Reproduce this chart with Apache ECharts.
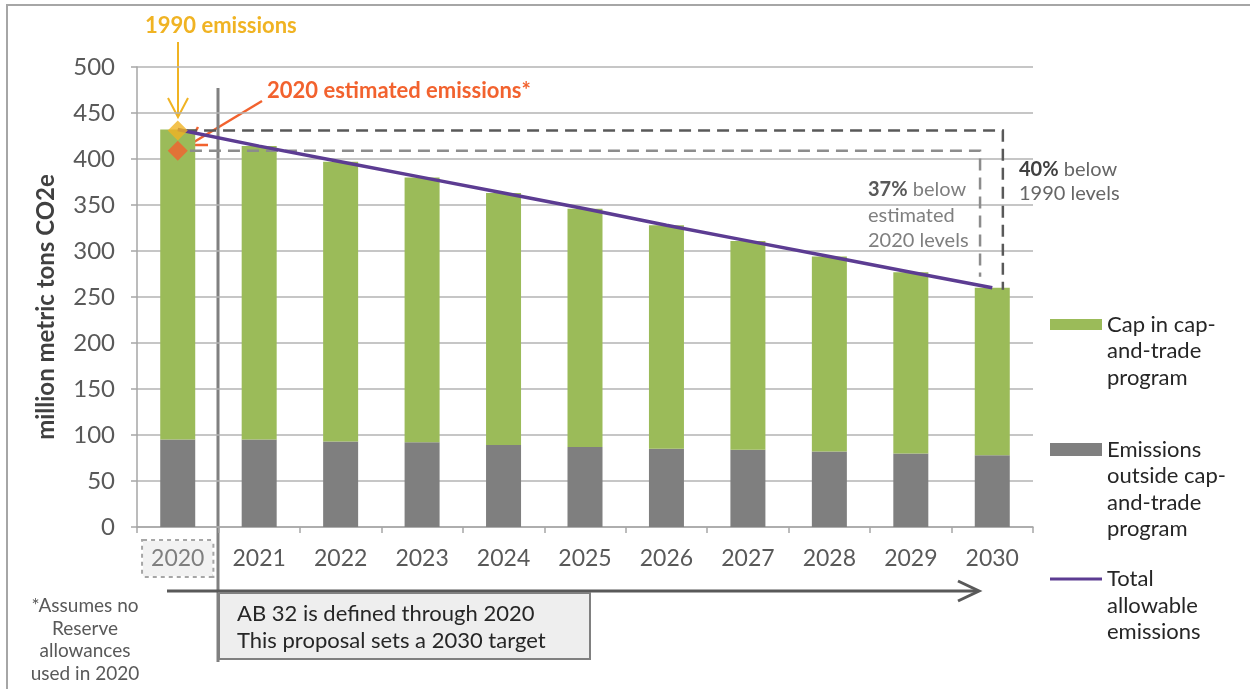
<!DOCTYPE html>
<html><head><meta charset="utf-8">
<script src="https://cdn.jsdelivr.net/npm/echarts@6/dist/echarts.min.js"></script>
<style>html,body{margin:0;padding:0;background:#fff}#c{width:1250px;height:689px}</style>
</head><body><div id="c"></div>
<script>
// ---- data ----
var years = ['2020','2021','2022','2023','2024','2025','2026','2027','2028','2029','2030'];
var outsideCap = [95, 95, 93, 92, 89, 87, 85, 84, 82, 80, 78];
var capTrade   = [337, 319, 304, 288, 274, 259, 243, 227, 212, 197, 182];
var totalAllowable = [432, 414, 397, 380, 363, 346, 328, 311, 294, 277, 260];
var yMin = 0, yMax = 500, yStep = 50;
var emissions1990 = 431;
var estimated2020 = 409;
// guide lines: [startCategory, level, endCategory, endLevel]
var guide1990 = [0, 431, 10, 258];
var guideEst  = [0, 409, 10, 272];
var yAxisTitle = 'million metric tons CO2e';
var nameCap = 'Cap in cap-and-trade program';
var nameOutside = 'Emissions outside cap-and-trade program';
var nameTotal = 'Total allowable emissions';
var legendCapLines = ['Cap in cap-', 'and-trade', 'program'];
var legendOutsideLines = ['Emissions', 'outside cap-', 'and-trade', 'program'];
var legendTotalLines = ['Total', 'allowable', 'emissions'];
var footnoteLines = ['*Assumes no', 'Reserve', 'allowances', 'used in 2020'];
var boxLines = ['AB 32 is defined through 2020', 'This proposal sets a 2030 target'];

// ---- style ----
var F = 'Lato, "Open Sans", sans-serif';
var LH = 26.5;
var GREEN = '#9bbb59', GRAY = '#7f7f7f', PURPLE = '#5c3c92';
var GOLD = '#f0b323', ORANGE = '#f2622e';

function mkLegend(name, lines, centerY, iconH) {
  var n = lines.length;
  var boxH = (2 * n - 1) * LH;
  var blanks = new Array(n).join('\n');
  return {
    left: 1050, top: centerY - boxH / 2, padding: 0, orient: 'vertical',
    selectedMode: false, itemWidth: 52, itemHeight: iconH, itemGap: 0,
    data: [{ name: name, icon: 'rect' }],
    formatter: function () { return blanks + lines.join('\n'); },
    textStyle: { fontFamily: F, fontSize: 22, lineHeight: LH, color: '#262626' }
  };
}

var chart = echarts.init(document.getElementById('c'));
var option = {
  animation: false,
  backgroundColor: '#ffffff',
  grid: { left: 137, right: 217, top: 67, bottom: 162, containLabel: false },
  legend: [
    mkLegend(nameCap, legendCapLines, 324.5, 11),
    mkLegend(nameOutside, legendOutsideLines, 449.5, 13),
    mkLegend(nameTotal, legendTotalLines, 579, 3)
  ],
  xAxis: {
    type: 'category', data: years,
    axisLine: { lineStyle: { color: '#a6a6a6', width: 1.5 } },
    axisTick: { show: true, length: 6, lineStyle: { color: '#a6a6a6', width: 1.5 } },
    axisLabel: {
      margin: 20, interval: 0,
      formatter: function (v, i) { return i === 0 ? '{box|' + v + '}' : '{plain|' + v + '}'; },
      rich: {
        box: { fontFamily: F, fontSize: 23, lineHeight: 23, color: '#7f7f7f', padding: [6, 8, 6, 8],
               backgroundColor: '#f2f2f2', borderColor: '#a6a6a6', borderWidth: 2, borderType: 'dotted' },
        plain: { fontFamily: F, fontSize: 23, lineHeight: 23, color: '#595959', padding: [6, 8, 6, 8] }
      }
    }
  },
  yAxis: {
    type: 'value', min: yMin, max: yMax, interval: yStep,
    axisLine: { show: true, lineStyle: { color: '#a6a6a6', width: 1.5 } },
    axisTick: { show: true, length: 6, lineStyle: { color: '#a6a6a6', width: 1.5 } },
    axisLabel: { margin: 22, fontFamily: F, fontSize: 24, color: '#595959' },
    splitLine: { lineStyle: { color: '#b3b3b3', width: 1.5 } }
  },
  series: [
    { name: nameOutside, type: 'bar', stack: 'tot', data: outsideCap, barWidth: 35,
      itemStyle: { color: GRAY } },
    { name: nameCap, type: 'bar', stack: 'tot', data: capTrade, barWidth: 35,
      itemStyle: { color: GREEN } },
    { name: nameTotal, type: 'line', data: totalAllowable, symbol: 'none', z: 5,
      lineStyle: { color: PURPLE, width: 3.5 }, itemStyle: { color: PURPLE } },
    { name: 'guides', type: 'custom', z: 4, silent: true,
      data: [guide1990, guideEst],
      renderItem: function (params, api) {
        var band = api.size([1, 0])[0];
        var p0 = api.coord([api.value(0), api.value(1)]);
        var p1 = api.coord([api.value(2), api.value(1)]);
        var p2 = api.coord([api.value(2), api.value(3)]);
        var dark = params.dataIndex === 0;
        var s = dark ? 0.09 : 0.15, e = dark ? 0.13 : -0.15;
        return { type: 'polyline',
          shape: { points: [[p0[0] + s * band, p0[1]], [p1[0] + e * band, p1[1]], [p2[0] + e * band, p2[1]]] },
          style: { stroke: dark ? '#595959' : '#8c8c8c', lineWidth: 2.5, lineDash: [12, 7], fill: null } };
      }
    },
    { name: 'markers', type: 'scatter', z: 6, symbol: 'diamond', symbolSize: 20, silent: true,
      data: [
        { value: [0, emissions1990], itemStyle: { color: GOLD } },
        { value: [0, estimated2020], itemStyle: { color: ORANGE } }
      ]
    }
  ],
  graphic: { elements: [
    // frame
    { type: 'polyline', shape: { points: [[7, 689], [7, 5], [1250, 5]] }, style: { stroke: '#a6a6a6', lineWidth: 2, fill: null } },
    // y axis title
    { type: 'text', x: 46, y: 307, rotation: Math.PI / 2,
      style: { x: 0, y: 0, text: yAxisTitle, font: 'bold 24px ' + F, fill: '#404040', textAlign: 'center', textVerticalAlign: 'middle' } },
    // 1990 label + arrow
    { type: 'text', style: { x: 145, y: 26, text: '1990 emissions', font: 'bold 22px ' + F, fill: GOLD, textVerticalAlign: 'middle' } },
    { type: 'line', shape: { x1: 178, y1: 42, x2: 178, y2: 117 }, style: { stroke: GOLD, lineWidth: 2 } },
    { type: 'polyline', shape: { points: [[168, 98], [178, 117], [188, 98]] }, style: { stroke: GOLD, lineWidth: 2, fill: null } },
    // 2020 estimated label + arrow
    { type: 'text', style: { x: 267, y: 91, text: '2020 estimated emissions*', font: 'bold 22px ' + F, fill: ORANGE, textVerticalAlign: 'middle' } },
    { type: 'line', shape: { x1: 262, y1: 101, x2: 189, y2: 145 }, style: { stroke: ORANGE, lineWidth: 2.5 } },
    { type: 'polyline', shape: { points: [[198, 127], [188, 145], [208, 145]] }, style: { stroke: ORANGE, lineWidth: 2.5, fill: null } },
    // 37% note
    { type: 'text', style: { x: 868, y: 177, text: '{b|37%} below\nestimated\n2020 levels', font: '20px ' + F, fill: '#7f7f7f', lineHeight: 25.5,
      textVerticalAlign: 'top', rich: { b: { fontWeight: 'bold', fill: '#595959', fontSize: 20, fontFamily: F } } } },
    // 40% note
    { type: 'text', style: { x: 1019, y: 158, text: '{b|40%} below\n1990 levels', font: '20px ' + F, fill: '#666666', lineHeight: 24,
      textVerticalAlign: 'top', rich: { b: { fontWeight: 'bold', fill: '#404040', fontSize: 20, fontFamily: F } } } },
    // boundary line
    { type: 'line', shape: { x1: 218, y1: 88, x2: 218, y2: 662 }, style: { stroke: '#808080', lineWidth: 3 } },
    // timeline arrow
    { type: 'line', shape: { x1: 167, y1: 591, x2: 978, y2: 591 }, style: { stroke: '#595959', lineWidth: 3 } },
    { type: 'polyline', shape: { points: [[958, 581], [979, 591], [958, 601]] }, style: { stroke: '#595959', lineWidth: 3, fill: null } },
    // box
    { type: 'rect', z: 10, shape: { x: 219, y: 593, width: 371, height: 66 }, style: { fill: '#eeeeee', stroke: '#808080', lineWidth: 2 } },
    { type: 'text', z: 11, style: { x: 237, y: 600, text: boxLines.join('\n'), font: '22px ' + F, fill: '#262626', lineHeight: 27, textVerticalAlign: 'top' } },
    // footnote
    { type: 'text', style: { x: 85, y: 595, text: footnoteLines.join('\n'), font: '19px ' + F, fill: '#595959', lineHeight: 22.5, textAlign: 'center', textVerticalAlign: 'top' } }
  ] }
};
chart.setOption(option);
</script>
</body></html>
